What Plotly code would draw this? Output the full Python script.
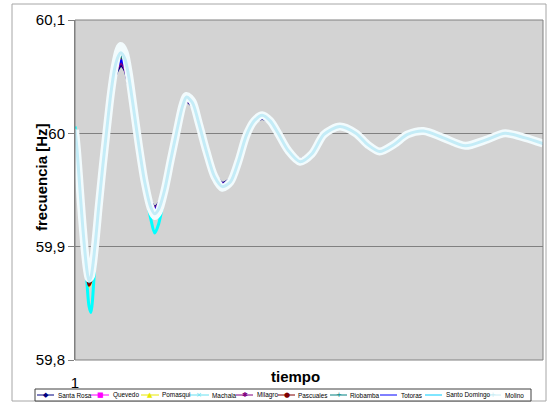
import plotly.graph_objects as go

# ---------------- data ----------------
t = [1, 2, 3, 4, 5, 6, 7, 8, 9, 11, 13, 15, 17, 19, 21, 23, 24, 26, 28, 30,
     33, 36, 39, 41, 43, 46, 49, 52, 55, 57, 60, 63, 67, 71, 75, 79, 83, 87, 91, 95,
     99, 103, 108, 114, 120, 126, 134, 142, 148, 154, 161, 168, 176, 186, 197, 207, 217, 227, 236]

santa_rosa = [59.998, 59.982, 59.960, 59.936, 59.915, 59.896, 59.881, 59.871, 59.875, 59.902,
              59.937, 59.972, 60.002, 60.030, 60.050, 60.058, 60.060, 60.056, 60.042, 60.022,
              59.990, 59.960, 59.940, 59.935, 59.938, 59.953, 59.977, 60.000, 60.020, 60.028,
              60.024, 60.008, 59.985, 59.965, 59.956, 59.960, 59.976, 59.998, 60.009, 60.013,
              60.009, 60.000, 59.986, 59.977, 59.983, 59.999, 60.005, 60.000, 59.990, 59.985,
              59.990, 59.999, 60.002, 59.996, 59.989, 59.994, 60.000, 59.996, 59.991]
quevedo = [59.995, 59.980, 59.958, 59.935, 59.913, 59.894, 59.879, 59.869, 59.873, 59.901,
           59.937, 59.972, 60.003, 60.031, 60.052, 60.061, 60.063, 60.058, 60.044, 60.023,
           59.990, 59.959, 59.939, 59.933, 59.937, 59.952, 59.977, 60.000, 60.021, 60.029,
           60.025, 60.009, 59.985, 59.964, 59.955, 59.959, 59.976, 59.998, 60.010, 60.014,
           60.010, 60.000, 59.986, 59.976, 59.983, 59.999, 60.005, 60.000, 59.990, 59.985,
           59.990, 59.999, 60.002, 59.996, 59.989, 59.994, 60.000, 59.996, 59.991]
pomasqui = [60.000, 59.984, 59.960, 59.936, 59.912, 59.892, 59.876, 59.865, 59.870, 59.899,
            59.937, 59.972, 60.004, 60.033, 60.056, 60.066, 60.068, 60.063, 60.047, 60.025,
            59.990, 59.958, 59.937, 59.931, 59.935, 59.951, 59.976, 60.001, 60.023, 60.031,
            60.026, 60.009, 59.984, 59.963, 59.954, 59.958, 59.975, 59.998, 60.010, 60.015,
            60.010, 60.000, 59.985, 59.976, 59.982, 59.999, 60.006, 60.000, 59.990, 59.984,
            59.990, 59.999, 60.002, 59.996, 59.989, 59.994, 60.000, 59.996, 59.991]
machala = [60.006, 59.992, 59.970, 59.945, 59.918, 59.893, 59.868, 59.848, 59.842, 59.885,
           59.934, 59.972, 60.004, 60.035, 60.058, 60.070, 60.073, 60.068, 60.051, 60.027,
           59.989, 59.954, 59.925, 59.912, 59.920, 59.946, 59.975, 60.001, 60.024, 60.031,
           60.027, 60.009, 59.983, 59.961, 59.951, 59.956, 59.975, 59.998, 60.011, 60.016,
           60.011, 60.000, 59.985, 59.975, 59.982, 59.999, 60.006, 60.000, 59.990, 59.984,
           59.990, 59.999, 60.002, 59.996, 59.989, 59.994, 60.000, 59.996, 59.991]
milagro = [59.996, 59.981, 59.959, 59.936, 59.914, 59.895, 59.880, 59.870, 59.874, 59.901,
           59.937, 59.972, 60.003, 60.031, 60.053, 60.060, 60.062, 60.058, 60.043, 60.023,
           59.990, 59.959, 59.939, 59.934, 59.937, 59.952, 59.977, 60.000, 60.021, 60.029,
           60.025, 60.009, 59.985, 59.964, 59.955, 59.959, 59.976, 59.998, 60.010, 60.014,
           60.010, 60.000, 59.986, 59.976, 59.983, 59.999, 60.005, 60.000, 59.990, 59.985,
           59.990, 59.999, 60.002, 59.996, 59.989, 59.994, 60.000, 59.996, 59.991]
pascuales = [59.999, 59.983, 59.960, 59.936, 59.912, 59.892, 59.876, 59.866, 59.870, 59.899,
             59.937, 59.972, 60.004, 60.033, 60.056, 60.065, 60.067, 60.062, 60.046, 60.025,
             59.990, 59.958, 59.937, 59.931, 59.935, 59.951, 59.976, 60.001, 60.023, 60.031,
             60.026, 60.009, 59.984, 59.963, 59.954, 59.958, 59.975, 59.998, 60.010, 60.015,
             60.010, 60.000, 59.985, 59.976, 59.982, 59.999, 60.006, 60.000, 59.990, 59.984,
             59.990, 59.999, 60.002, 59.996, 59.989, 59.994, 60.000, 59.996, 59.991]
riobamba = [60.001, 59.984, 59.961, 59.937, 59.914, 59.894, 59.878, 59.869, 59.872, 59.900,
            59.937, 59.972, 60.004, 60.034, 60.057, 60.066, 60.068, 60.063, 60.047, 60.025,
            59.990, 59.958, 59.937, 59.932, 59.935, 59.951, 59.976, 60.001, 60.023, 60.031,
            60.026, 60.009, 59.984, 59.963, 59.954, 59.958, 59.975, 59.998, 60.010, 60.015,
            60.010, 60.000, 59.985, 59.976, 59.982, 59.999, 60.006, 60.000, 59.990, 59.984,
            59.990, 59.999, 60.002, 59.996, 59.989, 59.994, 60.000, 59.996, 59.991]
totoras = [59.997, 59.982, 59.960, 59.936, 59.914, 59.895, 59.880, 59.870, 59.874, 59.901,
           59.937, 59.972, 60.003, 60.032, 60.054, 60.062, 60.064, 60.060, 60.045, 60.024,
           59.990, 59.959, 59.938, 59.933, 59.936, 59.952, 59.977, 60.000, 60.022, 60.030,
           60.025, 60.009, 59.985, 59.964, 59.955, 59.959, 59.976, 59.998, 60.010, 60.014,
           60.010, 60.000, 59.986, 59.976, 59.983, 59.999, 60.005, 60.000, 59.990, 59.985,
           59.990, 59.999, 60.002, 59.996, 59.989, 59.994, 60.000, 59.996, 59.991]
santo_domingo = [60.004, 59.986, 59.962, 59.938, 59.915, 59.895, 59.879, 59.870, 59.873, 59.900,
                 59.937, 59.972, 60.004, 60.035, 60.058, 60.069, 60.071, 60.066, 60.050, 60.027,
                 59.990, 59.957, 59.935, 59.929, 59.933, 59.950, 59.976, 60.001, 60.024, 60.032,
                 60.027, 60.010, 59.984, 59.962, 59.953, 59.957, 59.975, 59.998, 60.011, 60.016,
                 60.011, 60.000, 59.985, 59.975, 59.982, 59.999, 60.006, 60.000, 59.990, 59.984,
                 59.990, 59.999, 60.002, 59.996, 59.989, 59.994, 60.000, 59.996, 59.991]
molino = [60.003, 59.985, 59.962, 59.938, 59.915, 59.895, 59.880, 59.872, 59.874, 59.900,
          59.937, 59.972, 60.004, 60.035, 60.059, 60.074, 60.077, 60.071, 60.053, 60.028,
          59.990, 59.957, 59.934, 59.927, 59.931, 59.950, 59.976, 60.001, 60.025, 60.033,
          60.028, 60.010, 59.984, 59.962, 59.952, 59.957, 59.975, 59.998, 60.011, 60.016,
          60.011, 60.000, 59.985, 59.975, 59.982, 59.999, 60.006, 60.000, 59.990, 59.984,
          59.990, 59.999, 60.002, 59.996, 59.989, 59.994, 60.000, 59.996, 59.991]

series_names = ["Santa Rosa", "Quevedo", "Pomasqui", "Machala", "Milagro",
                "Pascuales", "Riobamba", "Totoras", "Santo Domingo", "Molino"]
series_values = [santa_rosa, quevedo, pomasqui, machala, milagro,
                 pascuales, riobamba, totoras, santo_domingo, molino]
x_tick_vals = [1]
x_tick_text = ["1"]
y_tick_vals = [59.8, 59.9, 60.0, 60.1]
y_tick_text = ["59,8", "59,9", "60", "60,1"]

# ---------------- styles ----------------
colors = ["#000080", "#FF00FF", "#FFFF00", "#00FFFF", "#800080",
          "#800000", "#008080", "#0000FF", "#C4ECF7", "#F2FBFD"]
widths = [3, 3, 3, 3, 3, 3, 3, 3, 3, 8]
# drawing order (Santo Domingo drawn last, over the wide Molino band)
draw_order = [0, 1, 2, 3, 4, 5, 6, 7, 9, 8]
legend_glyphs = ["◆", "■", "▲", "×", "✱", "●", "+", "", "", "+"]
legend_colors = ["#000080", "#FF00FF", "#E8E800", "#66E0F0", "#800080",
                 "#800000", "#008080", "#0000FF", "#00CCFF", "#C8ECF4"]
# legend item layout in page pixels: symbol start, symbol end, text start
leg_sym0 = [37, 91, 141, 189, 236, 278, 330, 380, 425, 485]
leg_sym1 = [54, 109, 159, 209, 253, 295, 347, 397, 442, 501]
leg_txt = [56, 111, 160, 210, 255, 296, 348, 399, 444, 503]

W, H = 547, 405
L, R, T, B = 75, 543, 20, 360


def px(x):
    return (x - L) / (R - L)


def py(y):
    return (B - y) / (B - T)


fig = go.Figure()
for i in draw_order:
    fig.add_trace(go.Scatter(
        x=t, y=series_values[i], name=series_names[i], mode="lines",
        line=dict(color=colors[i], width=widths[i], shape="spline", smoothing=0.8),
        showlegend=False, hoverinfo="x+y+name"))

shapes = []
annotations = []
# outer chart frame
shapes.append(dict(type="rect", xref="paper", yref="paper",
                   x0=px(12), x1=px(546), y0=py(401), y1=py(4),
                   line=dict(color="#A6A6A6", width=1), layer="below"))
# plot area border
shapes.append(dict(type="rect", xref="paper", yref="paper",
                   x0=0, x1=1, y0=0, y1=1,
                   line=dict(color="#808080", width=1), layer="above"))
# legend box
shapes.append(dict(type="rect", xref="paper", yref="paper",
                   x0=px(35), x1=px(531), y0=py(401), y1=py(389),
                   line=dict(color="#404040", width=1), fillcolor="white", layer="below"))
for i, name in enumerate(series_names):
    yc = py(395)
    shapes.append(dict(type="line", xref="paper", yref="paper",
                       x0=px(leg_sym0[i]), x1=px(leg_sym1[i]), y0=yc, y1=yc,
                       line=dict(color=legend_colors[i], width=1)))
    if legend_glyphs[i]:
        annotations.append(dict(xref="paper", yref="paper",
                                x=px((leg_sym0[i] + leg_sym1[i]) / 2), y=yc,
                                text=legend_glyphs[i], showarrow=False,
                                xanchor="center", yanchor="middle",
                                font=dict(size=7, color=legend_colors[i],
                                          family="DejaVu Sans")))
    annotations.append(dict(xref="paper", yref="paper",
                            x=px(leg_txt[i]), y=yc, text=name, showarrow=False,
                            xanchor="left", yanchor="middle",
                            font=dict(size=6.4, color="black",
                                      family="Liberation Sans Narrow, Liberation Sans, Arial")))

# axis titles
annotations.append(dict(xref="paper", yref="paper", x=px(295), y=py(376),
                        text="<b>tiempo</b>", showarrow=False,
                        xanchor="center", yanchor="middle",
                        font=dict(size=15, color="black", family="Liberation Sans, Arial")))
annotations.append(dict(xref="paper", yref="paper", x=px(41), y=py(177),
                        text="<b>frecuencia [Hz]</b>", showarrow=False, textangle=-90,
                        xanchor="center", yanchor="middle",
                        font=dict(size=15, color="black", family="Liberation Sans, Arial")))

fig.update_layout(
    width=W, height=H,
    margin=dict(l=L, r=W - R, t=T, b=H - B, pad=0),
    paper_bgcolor="white",
    plot_bgcolor="#D3D3D3",
    separators=",.",
    font=dict(family="Liberation Sans, Arial", color="black"),
    shapes=shapes,
    annotations=annotations,
    showlegend=False,
    xaxis=dict(range=[1, 236], tickvals=x_tick_vals, ticktext=x_tick_text,
               showgrid=False, zeroline=False, showline=False, ticks="",
               tickfont=dict(size=15, color="black"), ticklabelstandoff=12),
    yaxis=dict(range=[59.8, 60.1], tickvals=y_tick_vals, ticktext=y_tick_text,
               showgrid=True, gridcolor="#808080", gridwidth=1,
               zeroline=False, showline=True, linecolor="#808080", linewidth=1,
               ticks="outside", ticklen=6, tickcolor="#808080",
               tickfont=dict(size=15, color="black")),
)

fig.write_html("out.html", config={"displayModeBar": False},
               post_script="document.body.style.margin='0px';document.body.style.overflow='hidden';")
